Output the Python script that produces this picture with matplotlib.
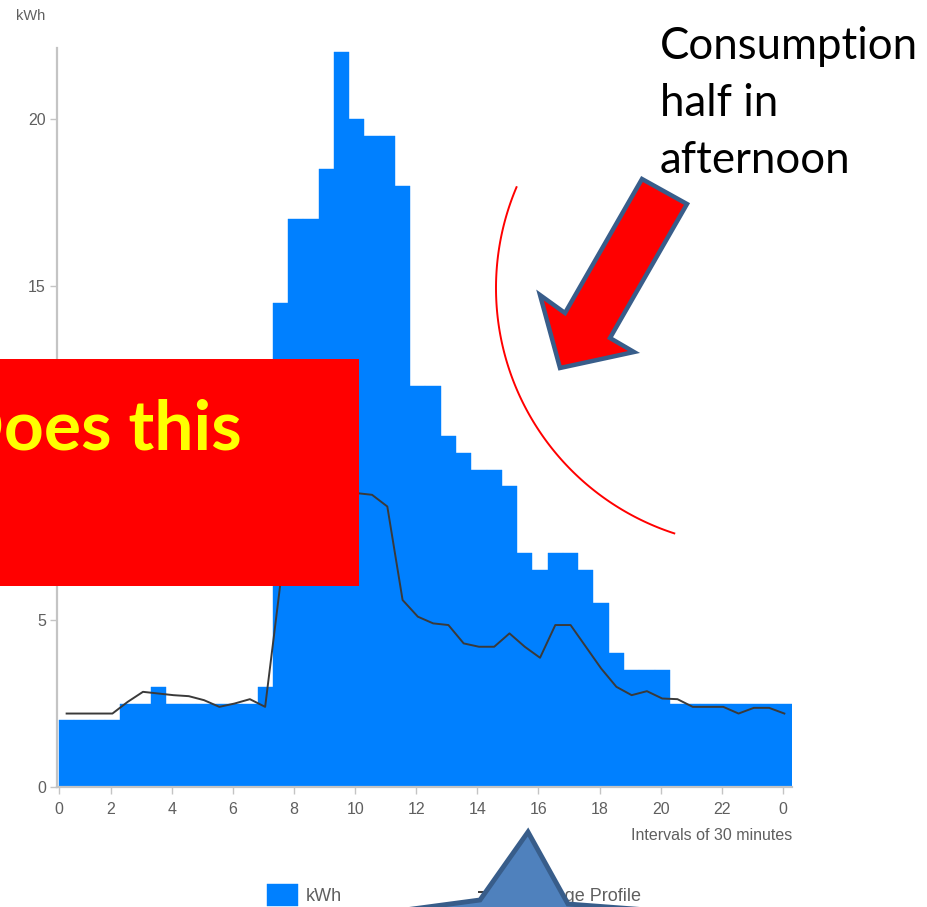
import numpy as np
import matplotlib.pyplot as plt
from matplotlib.patches import Rectangle, Polygon

plt.rcParams['font.family'] = ['DejaVu Sans Condensed', 'Liberation Sans Narrow',
                               'Liberation Sans']

# kWh per 30 minute interval (48 intervals)
kwh = [2.0, 2.0, 2.0, 2.0, 2.5, 2.5, 3.0, 2.5, 2.5, 2.5, 2.5, 2.5, 2.5, 3.0,
       14.5, 17.0, 17.0, 18.5, 22.0, 20.0, 19.5, 19.5, 18.0,
       12.0, 12.0, 10.5, 10.0, 9.5, 9.5, 9.0,
       7.0, 6.5, 7.0, 7.0, 6.5, 5.5, 4.0, 3.5, 3.5, 3.5,
       2.5, 2.5, 2.5, 2.5, 2.5, 2.5, 2.5, 2.5]
# average profile
avg = [2.2, 2.2, 2.2, 2.2, 2.55, 2.85, 2.8, 2.75, 2.72, 2.6, 2.4, 2.5, 2.63, 2.4,
       6.1, 7.8, 8.3, 8.5, 8.7, 8.8, 8.75, 8.4,
       5.6, 5.1, 4.9, 4.85, 4.3, 4.2, 4.2, 4.6, 4.2, 3.87, 4.85, 4.85, 4.2, 3.55,
       3.0, 2.75, 2.87, 2.65, 2.63, 2.4, 2.4, 2.4, 2.2, 2.37, 2.37, 2.2]
hour_labels = ['0', '2', '4', '6', '8', '10', '12', '14', '16', '18', '20', '22', '0']
y_ticks = [0, 5, 10, 15, 20]

W, H = 927, 907
grey_txt = '#5f5f5f'
grey_ax = '#c4c4c4'

fig = plt.figure(figsize=(W / 100, H / 100), dpi=100)

# MAIN CHART #
ax = fig.add_axes([57 / W, 1 - 787 / H, (792 - 57) / W, (787 - 48) / H])
x = np.arange(len(kwh))
bars = ax.bar(x, kwh, width=1.0, align='edge', color='#0080ff',
              edgecolor='#0080ff', linewidth=0.3, label='kWh')
line, = ax.plot(x + 0.5, avg, color='#3a3a3a', lw=1.4, label='Average Profile')

ax.set_xlim(-0.13, 48)
ax.set_ylim(0, 22.13)

for s in ['top', 'right']:
    ax.spines[s].set_visible(False)
for s in ['left', 'bottom']:
    ax.spines[s].set_color(grey_ax)
    ax.spines[s].set_linewidth(1.6)

xt = [0] + list(np.arange(3.4, 48, 4))
ax.set_xticks(xt, hour_labels)
ax.set_yticks(y_ticks, [str(v) for v in y_ticks])
ax.tick_params(axis='both', colors=grey_ax, labelcolor=grey_txt, labelsize=11.5,
               length=5, width=1)
ax.tick_params(axis='x', pad=6)
ax.tick_params(axis='y', pad=3)

fig.text(792 / W, 1 - 836 / H, 'Intervals of 30 minutes', ha='right',
         va='center', fontsize=11.5, color=grey_txt)
fig.text(16 / W, 1 - 16 / H, 'kWh', ha='left', va='center', fontsize=10.5,
         color=grey_txt)

ax.legend(handles=[bars, line], loc='lower left',
          bbox_to_anchor=(267 / W, 1 - 906 / H), bbox_transform=fig.transFigure,
          ncol=2, frameon=False, fontsize=13, handlelength=1.7, handleheight=1.5,
          handletextpad=0.45, columnspacing=7.6, borderpad=0, borderaxespad=0,
          labelcolor=grey_txt)

# ANNOTATIONS (pixel overlay) #
ov = fig.add_axes([0, 0, 1, 1])
ov.set_xlim(0, W)
ov.set_ylim(H, 0)
ov.axis('off')
ov.set_zorder(5)

ov.add_patch(Rectangle((0, 359), 359, 227, fc='#ff0000', ec='none'))
ov.text(242, 449, 'Does this', color='#ffff00', fontsize=50, fontweight='bold',
        family='Lato', ha='right', va='baseline')

arrow = [(642, 179), (687, 204), (610, 338), (634, 352), (560, 368),
         (540, 295), (565, 313)]
ov.add_patch(Polygon(arrow, closed=True, fc='#ff0000', ec='#385d8a', lw=3.2,
                     joinstyle='miter'))

t = np.radians(np.linspace(108, 203, 120))
ov.plot(754 + 258 * np.cos(t), 288 + 258 * np.sin(t), color='#ff0000', lw=1.4)

for txt, yb in [('Consumption', 59), ('half in', 116), ('afternoon', 173)]:
    ov.text(660, yb, txt, family='Lato', fontsize=31.5, va='baseline',
            ha='left', color='black')

star = [(360, 916), (480, 900), (528, 832), (568, 904), (700, 914),
        (700, 960), (360, 960)]
ov.add_patch(Polygon(star, closed=True, fc='#4f81bd', ec='#385d8a', lw=3.5,
                     joinstyle='miter'))

plt.savefig('out.png', dpi=100)
